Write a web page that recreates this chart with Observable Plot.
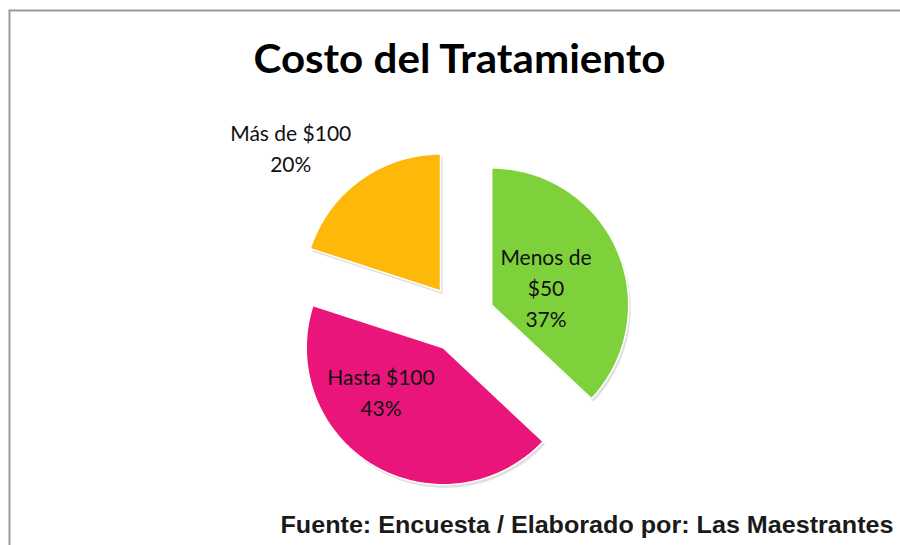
<!DOCTYPE html>
<html>
<head>
<meta charset="utf-8">
<script src="https://cdn.jsdelivr.net/npm/d3@7"></script>
<script src="https://cdn.jsdelivr.net/npm/@observablehq/plot@0.6"></script>
<style>
  html, body { margin: 0; padding: 0; background: #fff; }
</style>
</head>
<body>
<div id="chart"></div>
<script>
// ---- data ----
const categories = ["Menos de $50", "Hasta $100", "Más de $100"];
const values = [37, 43, 20];
const colors = ["#7FD13B", "#EA157A", "#FEB80A"];
const title = "Costo del Tratamiento";
const source = "Fuente: Encuesta / Elaborado por: Las Maestrantes";

// ---- layout ----
const W = 900, H = 545;
const cx = 460, cy = 318, R = 137, explode = 34;
// label placement per slice: radial factor, angle offset (deg), wrap name
const labelLayout = [
  {k: 0.42, da: 4, wrap: true},
  {k: 0.55, da: 25, wrap: false},
  {k: 1.52, da: -10, wrap: false}
];

const data = categories.map((c, i) => ({name: c, value: values[i], color: colors[i], i}));
const total = d3.sum(values);
const arcs = d3.pie().sort(null).value(d => d.value)(data);

const pts = [];
const labels = [];
for (const a of arcs) {
  const mid = (a.startAngle + a.endAngle) / 2;
  const ox = cx + explode * Math.sin(mid);
  const oy = cy - explode * Math.cos(mid);
  const n = Math.max(8, Math.ceil((a.endAngle - a.startAngle) / 0.02));
  pts.push({x: ox, y: oy, name: a.data.name, color: a.data.color});
  for (let j = 0; j <= n; j++) {
    const t = a.startAngle + (a.endAngle - a.startAngle) * j / n;
    pts.push({x: ox + R * Math.sin(t), y: oy - R * Math.cos(t), name: a.data.name, color: a.data.color});
  }
  pts.push({x: ox, y: oy, name: a.data.name, color: a.data.color});
  const L = labelLayout[a.data.i];
  const la = mid + L.da * Math.PI / 180;
  let nm = a.data.name;
  if (L.wrap) { const k = nm.lastIndexOf(" "); nm = nm.slice(0, k) + "\n" + nm.slice(k + 1); }
  labels.push({
    x: ox + L.k * R * Math.sin(la),
    y: oy - L.k * R * Math.cos(la),
    text: nm + "\n" + Math.round(a.data.value / total * 100) + "%"
  });
}

const chart = Plot.plot({
  width: W,
  height: H,
  margin: 0,
  style: {background: "#fff"},
  x: {domain: [0, W], range: [0, W], axis: null},
  y: {domain: [0, H], range: [0, H], axis: null},
  marks: [
    Plot.frame({stroke: "#9a9a9a", strokeWidth: 2, insetLeft: 9, insetTop: 10, insetRight: -10, insetBottom: -10}),
    // soft shadow
    Plot.line(pts, {x: "x", y: "y", z: "name", fill: "#000", fillOpacity: 0.12, stroke: "none", dx: 2, dy: 3}),
    Plot.line(pts, {x: "x", y: "y", z: "name", fill: "color", stroke: "#fff", strokeWidth: 1.5, strokeLinejoin: "round"}),
    Plot.text(labels, {x: "x", y: "y", text: "text", fontSize: 21, lineHeight: 1.48, fill: "#111",
      fontFamily: "Lato, 'Open Sans', sans-serif", textAnchor: "middle"}),
    Plot.text([title], {x: 459, y: 60, text: d => d, fontSize: 40, fontWeight: "bold", fill: "#000",
      fontFamily: "Lato, 'Open Sans', sans-serif", textAnchor: "middle"}),
    Plot.text([source], {x: 893, y: 525, text: d => d, fontSize: 24, fontWeight: "bold", fill: "#1a1a1a",
      fontFamily: "'Liberation Sans', Arial, sans-serif", textAnchor: "end"})
  ]
});
document.getElementById("chart").appendChild(chart);

// fit title and source widths to the reference
d3.select(chart).selectAll("text").each(function () {
  const t = this.textContent;
  if (t === title) { this.setAttribute("textLength", 412); this.setAttribute("lengthAdjust", "spacingAndGlyphs"); }
  if (t === source) { this.setAttribute("textLength", 613); this.setAttribute("lengthAdjust", "spacingAndGlyphs"); }
});
</script>
</body>
</html>
